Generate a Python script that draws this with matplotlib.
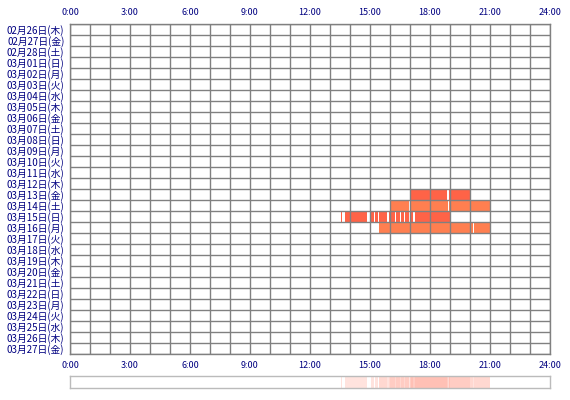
import matplotlib
matplotlib.use('Agg')
import matplotlib.pyplot as plt
import numpy as np

plt.rcParams['font.family'] = ['Noto Sans CJK JP', 'DejaVu Sans']

# 日付ラベル（上から順）
day_labels = [
    '02月26日(木)', '02月27日(金)', '02月28日(土)', '03月01日(日)', '03月02日(月)',
    '03月03日(火)', '03月04日(水)', '03月05日(木)', '03月06日(金)', '03月07日(土)',
    '03月08日(日)', '03月09日(月)', '03月10日(火)', '03月11日(水)', '03月12日(木)',
    '03月13日(金)', '03月14日(土)', '03月15日(日)', '03月16日(月)', '03月17日(火)',
    '03月18日(水)', '03月19日(木)', '03月20日(金)', '03月21日(土)', '03月22日(日)',
    '03月23日(月)', '03月24日(火)', '03月25日(水)', '03月26日(木)', '03月27日(金)',
]

hour_ticks = [0, 3, 6, 9, 12, 15, 18, 21, 24]
hour_labels = ['0:00', '3:00', '6:00', '9:00', '12:00', '15:00', '18:00', '21:00', '24:00']

# 活動時間帯（開始, 終了）[時]
active_days = ['03月13日(金)', '03月14日(土)', '03月15日(日)', '03月16日(月)']
active_segments = [
    [(17.0, 18.87), (18.93, 20.0)],
    [(16.0, 16.95), (17.0, 18.9), (18.95, 21.0)],
    [(13.53, 13.60), (13.75, 14.83), (15.03, 15.18), (15.23, 15.40),
     (15.47, 15.87), (15.93, 16.23), (16.32, 16.52), (16.57, 16.70),
     (16.77, 16.97), (17.03, 17.17), (17.27, 19.0)],
    [(15.45, 20.17), (20.22, 21.0)],
]
row_colors = ['#FF6347', '#FF7F50', '#FF6347', '#FF7F50']

label_color = '#000080'
grid_color = '#808080'

fig = plt.figure(figsize=(5.7, 4.0), dpi=100)
ax = fig.add_axes([70 / 570, 46 / 400, 480 / 570, 330 / 400])

for day, segs, col in zip(active_days, active_segments, row_colors):
    row = day_labels.index(day)
    ax.broken_barh([(s, e - s) for s, e in segs], (row, 1), facecolors=col,
                   edgecolor='none', zorder=1)

ax.set_xlim(0, 24)
ax.set_ylim(len(day_labels), 0)
ax.set_xticks(hour_ticks)
ax.set_xticklabels(hour_labels)
ax.set_xticks(np.arange(0, 25), minor=True)
ax.set_yticks(np.arange(len(day_labels)) + 0.5)
ax.set_yticklabels(day_labels)
ax.set_yticks(np.arange(len(day_labels) + 1), minor=True)

ax.tick_params(which='both', length=0)
ax.tick_params(axis='x', labeltop=True, labelbottom=True, pad=5,
               labelsize=6.5, labelcolor=label_color)
ax.tick_params(axis='y', pad=4, labelsize=7, labelcolor=label_color)

ax.set_axisbelow(False)
ax.grid(axis='x', which='both', color=grid_color, linewidth=1.0)
ax.grid(axis='y', which='minor', color=grid_color, linewidth=1.0)
ax.grid(axis='y', which='major', visible=False)
for sp in ax.spines.values():
    sp.set_color(grid_color)
    sp.set_linewidth(1.0)

# 下部の集計帯
t = np.arange(0, 24, 1 / 60) + 1 / 120
counts = np.zeros_like(t)
for segs in active_segments:
    for s, e in segs:
        counts += (t >= s) & (t < e)

base = np.array([255, 99, 71]) / 255.0
alpha = np.where(counts > 0, 0.1 + 0.075 * counts, 0)
strip = 1 - alpha[:, None] * (1 - base[None, :])
strip = strip[None, :, :]

sax = fig.add_axes([70 / 570, 12 / 400, 480 / 570, 12 / 400])
sax.imshow(strip, aspect='auto', extent=(0, 24, 0, 1), interpolation='nearest')
sax.set_xlim(0, 24)
sax.set_ylim(0, 1)
sax.set_xticks([])
sax.set_yticks([])
for sp in sax.spines.values():
    sp.set_color('#BBBBBB')
    sp.set_linewidth(1.0)

fig.savefig('out.png', dpi=100)
